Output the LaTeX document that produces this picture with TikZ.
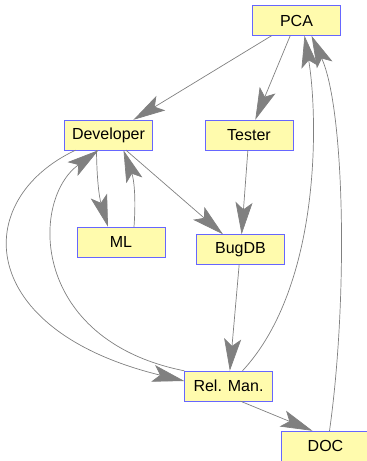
\documentclass[tikz,border=0pt]{standalone}
\usepackage{fontspec}
\setmainfont{Liberation Sans}
\usetikzlibrary{arrows.meta}

\begin{document}
\begin{tikzpicture}[x=1pt, y=-1pt,
  box/.style={draw=blue!60, fill=yellow!32, minimum width=88pt, minimum height=30pt, inner sep=0pt, font=\fontsize{16}{18}\selectfont},
  flow/.style={draw=gray, line width=0.7pt, -{Stealth[length=32pt, width=17pt, inset=7pt]}}]
\useasboundingbox (0,0) rectangle (367,461);
\node[box] (pca) at (296.5,20.5) {PCA};
\node[box] (dev) at (108.5,135) {Developer};
\node[box] (tester) at (249,135) {Tester};
\node[box] (ml) at (121,242) {ML};
\node[box] (bugdb) at (240.5,249.5) {BugDB};
\node[box] (rel) at (228.5,386) {Rel. Man.};
\node[box] (doc) at (325.5,446) {DOC};
\draw[flow] (pca) -- (dev);
\draw[flow] (pca) -- (tester);
\draw[flow] (tester) -- (bugdb);
\draw[flow] (dev) -- (bugdb);
\draw[flow] ([xshift=-12pt]dev.south) to[bend right=8] ([xshift=-13pt]ml.north);
\draw[flow] ([xshift=13pt]ml.north) to[bend right=12] ([xshift=15pt]dev.south);
\draw[flow] ([xshift=-33pt]dev.south) .. controls (-30,200) and (-25,330) .. ([yshift=5pt]rel.west);
\draw[flow] (rel.north west) .. controls (30,340) and (30,200) .. ([xshift=-10pt]dev.south);
\draw[flow] (bugdb) -- (rel);
\draw[flow] ([xshift=14pt]rel.north) .. controls (322,285) and (318,115) .. ([xshift=8pt]pca.south);
\draw[flow] ([xshift=4pt]doc.north) .. controls (348,300) and (345,110) .. ([xshift=15pt]pca.south);
\draw[flow] ([xshift=12pt]rel.south) -- ([xshift=-13pt]doc.north);
\end{tikzpicture}
\end{document}
